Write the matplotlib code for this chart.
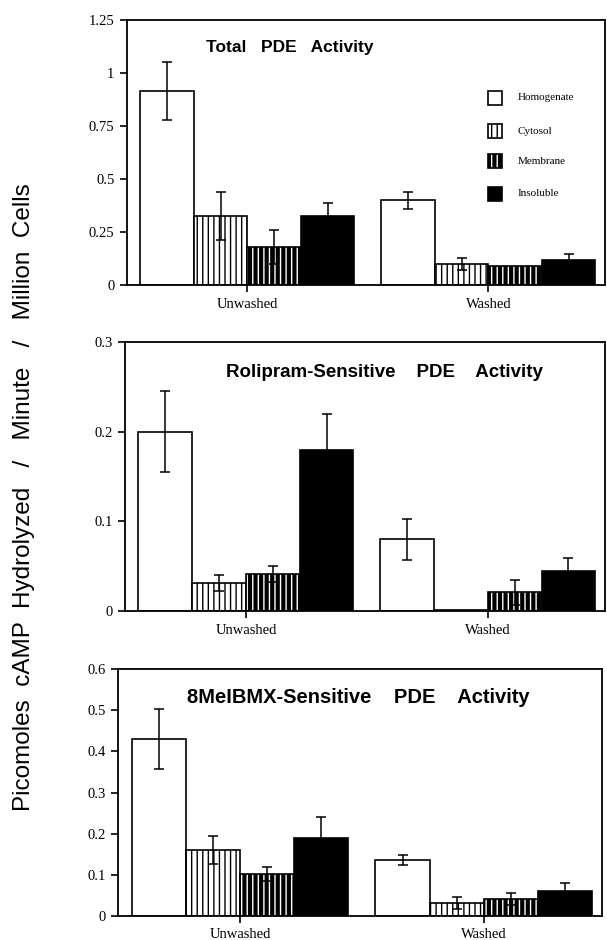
import matplotlib
matplotlib.use("Agg")
import matplotlib.pyplot as plt
from matplotlib.patches import Rectangle
import numpy as np

plt.rcParams['hatch.linewidth'] = 1.0

groups = ["Unwashed", "Washed"]
fractions = ["Homogenate", "Cytosol", "Membrane", "Insoluble"]

titles = ["Total   PDE   Activity", "Rolipram-Sensitive    PDE    Activity",
          "8MeIBMX-Sensitive    PDE    Activity"]

# values[panel][fraction] = [unwashed, washed]
total_vals = {"Homogenate": [0.915, 0.40], "Cytosol": [0.325, 0.10],
              "Membrane": [0.18, 0.09], "Insoluble": [0.325, 0.118]}
total_err = {"Homogenate": [0.135, 0.04], "Cytosol": [0.115, 0.027],
             "Membrane": [0.08, 0.0], "Insoluble": [0.062, 0.028]}

roli_vals = {"Homogenate": [0.20, 0.08], "Cytosol": [0.031, 0.001],
             "Membrane": [0.041, 0.021], "Insoluble": [0.18, 0.045]}
roli_err = {"Homogenate": [0.045, 0.023], "Cytosol": [0.009, 0.0],
            "Membrane": [0.009, 0.014], "Insoluble": [0.04, 0.014]}

mei_vals = {"Homogenate": [0.43, 0.136], "Cytosol": [0.16, 0.032],
            "Membrane": [0.102, 0.041], "Insoluble": [0.19, 0.061]}
mei_err = {"Homogenate": [0.073, 0.012], "Cytosol": [0.034, 0.014],
           "Membrane": [0.018, 0.015], "Insoluble": [0.05, 0.019]}

yticks_list = [[0, 0.25, 0.5, 0.75, 1, 1.25], [0, 0.1, 0.2, 0.3],
               [0, 0.1, 0.2, 0.3, 0.4, 0.5, 0.6]]
ytick_labels = [["0", "0.25", "0.5", "0.75", "1", "1.25"],
                ["0", "0.1", "0.2", "0.3"],
                ["0", "0.1", "0.2", "0.3", "0.4", "0.5", "0.6"]]
ylims = [1.25, 0.3, 0.6]

W, H = 607, 940
fig = plt.figure(figsize=(W / 100, H / 100), dpi=100)

# axes pixel boxes: left, right, top, bottom
boxes = [(127, 605, 20, 285), (125, 605, 342, 611), (118, 602, 669, 916)]
title_pos = [(0.34, 0.895), (0.54, 0.885), (0.497, 0.885)]
title_size = [12.5, 13.5, 14.5]

panels = [(total_vals, total_err), (roli_vals, roli_err), (mei_vals, mei_err)]

serif = "Liberation Serif"
sans = "Liberation Sans"

group_x = np.array([0.0, 4.5])
offsets = [-1.5, -0.5, 0.5, 1.5]


def add_square(ax, x0, y0, w, h, frac):
    tr = ax.transAxes
    if frac == "Homogenate":
        ax.add_patch(Rectangle((x0, y0), w, h, transform=tr,
                               facecolor="white", edgecolor="black", linewidth=1.2))
    elif frac == "Cytosol":
        ax.add_patch(Rectangle((x0, y0), w, h, transform=tr,
                               facecolor="white", edgecolor="black", hatch="|||", linewidth=0))
        ax.add_patch(Rectangle((x0, y0), w, h, transform=tr,
                               facecolor="none", edgecolor="black", linewidth=1.2))
    elif frac == "Membrane":
        ax.add_patch(Rectangle((x0, y0), w, h, transform=tr,
                               facecolor="black", edgecolor="white", hatch="|||", linewidth=0))
        ax.add_patch(Rectangle((x0, y0), w, h, transform=tr,
                               facecolor="none", edgecolor="black", linewidth=1.2))
    else:
        ax.add_patch(Rectangle((x0, y0), w, h, transform=tr,
                               facecolor="black", edgecolor="black", linewidth=1.2))


for i, ((vals, errs), (l, r, t, b)) in enumerate(zip(panels, boxes)):
    ax = fig.add_axes([l / W, 1 - b / H, (r - l) / W, (b - t) / H])
    for j, frac in enumerate(fractions):
        xs = group_x + offsets[j]
        hs = np.array(vals[frac])
        es = np.array(errs[frac])
        if frac == "Homogenate":
            ax.bar(xs, hs, width=1.0, color="white", edgecolor="black", linewidth=1.2, zorder=2)
        elif frac == "Cytosol":
            ax.bar(xs, hs, width=1.0, color="white", edgecolor="black", hatch="|||", linewidth=0, zorder=2)
            ax.bar(xs, hs, width=1.0, color="none", edgecolor="black", linewidth=1.2, zorder=2)
        elif frac == "Membrane":
            ax.bar(xs, hs, width=1.0, color="black", edgecolor="white", hatch="|||", linewidth=0, zorder=2)
            ax.bar(xs, hs, width=1.0, color="none", edgecolor="black", linewidth=1.2, zorder=2)
        else:
            ax.bar(xs, hs, width=1.0, color="black", edgecolor="black", linewidth=1.2, zorder=2)
        m = es > 0
        ax.errorbar(xs[m], hs[m], yerr=es[m], fmt="none", ecolor="black",
                    elinewidth=1.1, capsize=3.5, capthick=1.1, zorder=3)
    ax.set_xlim(-2.25, 6.68)
    ax.set_ylim(0, ylims[i])
    ax.set_yticks(yticks_list[i])
    ax.set_yticklabels(ytick_labels[i], fontfamily=serif, fontsize=10.5)
    ax.set_xticks(group_x)
    ax.set_xticklabels(groups, fontfamily=serif, fontsize=10.5)
    ax.tick_params(axis='both', direction='out', length=5, width=1.2, pad=4)
    for s in ax.spines.values():
        s.set_linewidth(1.3)
    tx, ty = title_pos[i]
    ax.text(tx, ty, titles[i], transform=ax.transAxes, ha="center", va="center",
            fontfamily=sans, fontweight="bold", fontsize=title_size[i])

    if i == 0:
        rows_y = [98, 131, 161, 194]
        for frac, yy in zip(fractions, rows_y):
            x0 = (488 - l) / (r - l)
            y0 = (b - (yy + 7)) / (b - t)
            w = 14 / (r - l)
            h = 14 / (b - t)
            add_square(ax, x0, y0, w, h, frac)
            ax.text((518 - l) / (r - l), (b - yy) / (b - t), frac, transform=ax.transAxes,
                    ha="left", va="center", fontfamily=serif, fontsize=8)

fig.text(24 / W, 1 - 497 / H, "Picomoles  cAMP  Hydrolyzed   /   Minute   /   Million  Cells",
         rotation=90, ha="center", va="center", fontfamily=sans, fontsize=17.5)

fig.savefig("out.png", dpi=100)
